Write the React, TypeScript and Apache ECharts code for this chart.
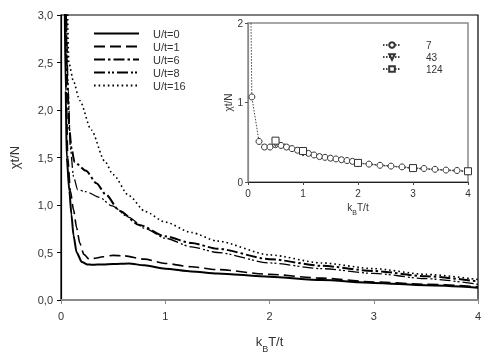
import React, { useEffect, useRef } from "react";
import * as echarts from "echarts";

// ---- main chart data (kBT/t, chi t/N) ----
const u0X = [0.035, 0.045, 0.055, 0.08, 0.1, 0.12, 0.15, 0.2, 0.25, 0.3, 0.4, 0.5, 0.65, 0.8, 1.0, 1.25, 1.5, 2.0, 2.5, 3.0, 3.5, 4.0];
const u0Y = [3.2, 2.2, 1.5, 1.15, 0.9, 0.68, 0.5, 0.4, 0.375, 0.37, 0.375, 0.38, 0.385, 0.365, 0.33, 0.3, 0.28, 0.245, 0.21, 0.18, 0.155, 0.13];

const u1X = [0.04, 0.05, 0.065, 0.09, 0.12, 0.15, 0.18, 0.22, 0.27, 0.33, 0.4, 0.5, 0.6, 0.8, 1.0, 1.25, 1.5, 2.0, 2.5, 3.0, 3.5, 4.0];
const u1Y = [3.2, 2.2, 1.5, 1.15, 0.95, 0.76, 0.6, 0.48, 0.43, 0.44, 0.455, 0.47, 0.465, 0.43, 0.385, 0.35, 0.32, 0.27, 0.23, 0.19, 0.165, 0.14];

const u6X = [0.045, 0.06, 0.08, 0.1, 0.13, 0.24, 0.34, 0.43, 0.56, 0.75, 1.0, 1.25, 1.5, 2.0, 2.5, 3.0, 3.5, 4.0];
const u6Y = [3.2, 2.3, 1.8, 1.6, 1.45, 1.36, 1.23, 1.11, 0.94, 0.79, 0.67, 0.6, 0.54, 0.43, 0.36, 0.305, 0.25, 0.195];

const u8X = [0.05, 0.07, 0.09, 0.12, 0.16, 0.24, 0.37, 0.49, 0.65, 0.81, 1.0, 1.25, 1.5, 2.0, 2.5, 3.0, 3.5, 4.0];
const u8Y = [3.2, 2.2, 1.6, 1.3, 1.16, 1.14, 1.08, 0.99, 0.87, 0.75, 0.65, 0.56, 0.5, 0.39, 0.33, 0.28, 0.225, 0.165];

const u16X = [0.06, 0.075, 0.12, 0.18, 0.29, 0.42, 0.5, 0.65, 0.81, 1.0, 1.25, 1.5, 2.0, 2.5, 3.0, 3.5, 4.0];
const u16Y = [3.2, 2.5, 2.3, 2.1, 1.79, 1.46, 1.32, 1.1, 0.93, 0.82, 0.71, 0.62, 0.475, 0.39, 0.33, 0.27, 0.215];

const mainNames = ["U/t=0", "U/t=1", "U/t=6", "U/t=8", "U/t=16"];

// ---- inset data ----
const in7X = [0.05, 0.07, 0.2, 0.3, 0.4, 0.5, 0.6, 0.7, 0.8, 0.9, 1.0, 1.1, 1.2, 1.3, 1.4, 1.5, 1.6, 1.7, 1.8, 1.9, 2.0, 2.2, 2.4, 2.6, 2.8, 3.0, 3.2, 3.4, 3.6, 3.8, 4.0];
const in7Y = [2.3, 1.07, 0.51, 0.44, 0.44, 0.47, 0.46, 0.44, 0.42, 0.4, 0.38, 0.36, 0.34, 0.32, 0.31, 0.3, 0.29, 0.28, 0.27, 0.26, 0.24, 0.225, 0.21, 0.2, 0.19, 0.18, 0.17, 0.16, 0.15, 0.145, 0.135];
const in43X = [0.5, 1.0, 2.0, 3.0, 4.0];
const in43Y = [0.49, 0.37, 0.235, 0.17, 0.13];
const in124X = [0.5, 1.0, 2.0, 3.0, 4.0];
const in124Y = [0.52, 0.39, 0.24, 0.175, 0.135];
const insetNames = ["7", "43", "124"];

const zip = (xs: number[], ys: number[]) => xs.map((x, i) => [x, ys[i]]);
const comma = (v: number) => v.toFixed(1).replace(".", ",");

export default function App() {
  const ref = useRef<HTMLDivElement>(null);
  useEffect(() => {
    if (!ref.current) return;
    const chart = echarts.init(ref.current, undefined, { renderer: "svg" });
    const lineBase = (name: string, xs: number[], ys: number[], width: number, type: any) => ({
      name,
      type: "line",
      xAxisIndex: 0,
      yAxisIndex: 0,
      data: zip(xs, ys),
      showSymbol: false,
      symbol: "none",
      smooth: 0.25,
      smoothMonotone: "x",
      lineStyle: { color: "#000", width, type },
      itemStyle: { color: "#000" },
      clip: true,
    });
    const insetSeries = (name: string, xs: number[], ys: number[], symbol: string, size: number, first?: boolean) => ({
      name,
      type: "line",
      xAxisIndex: 1,
      yAxisIndex: 1,
      data: zip(xs, ys).map((p, i) =>
        first && i === 0 ? { value: p, symbol: "none" } : { value: p }
      ),
      symbol,
      symbolSize: size,
      showSymbol: true,
      lineStyle: { color: "#444", width: 1, type: [1.5, 1.5] },
      itemStyle: { color: "#fff", borderColor: "#333", borderWidth: 1 },
      clip: true,
      z: 5,
    });
    const tri = "path://M0,0 L10,0 L5,9 Z";
    chart.setOption({
      animation: false,
      textStyle: { fontFamily: "Liberation Sans, Arial, sans-serif" },
      grid: [
        { left: 58, right: 13, top: 15, bottom: 49, show: true, borderColor: "#000", borderWidth: 1.2, backgroundColor: "transparent" },
        { left: 248, right: 23, top: 23, bottom: 176, show: true, borderColor: "#8a8a8a", borderWidth: 1.5, backgroundColor: "#fff" },
      ],
      xAxis: [
        {
          gridIndex: 0, type: "value", min: 0, max: 4, interval: 1,
          axisLine: { lineStyle: { color: "#8a8a8a", width: 2 } },
          axisTick: { show: true, length: 4, lineStyle: { color: "#8a8a8a" } },
          splitLine: { show: false },
          axisLabel: { fontSize: 11, color: "#333", margin: 10 },
          name: "{n|k}{s|B}{n|T/t}",
          nameLocation: "middle",
          nameGap: 35,
          nameTextStyle: {
            rich: {
              n: { fontSize: 13, color: "#333", lineHeight: 18, verticalAlign: "top" },
              s: { fontSize: 9, color: "#333", lineHeight: 18, verticalAlign: "bottom", padding: [8, 0, 0, 0] },
            },
          },
        },
        {
          gridIndex: 1, type: "value", min: 0, max: 4, interval: 1,
          axisLine: { lineStyle: { color: "#222", width: 1 } },
          axisTick: { show: true, length: 3, lineStyle: { color: "#444" } },
          splitLine: { show: false },
          axisLabel: { fontSize: 10, color: "#333", margin: 6 },
          name: "{n|k}{s|B}{n|T/t}",
          nameLocation: "middle",
          nameGap: 20,
          nameTextStyle: {
            rich: {
              n: { fontSize: 10, color: "#333", lineHeight: 14, verticalAlign: "top" },
              s: { fontSize: 7, color: "#333", lineHeight: 14, verticalAlign: "bottom", padding: [6, 0, 0, 0] },
            },
          },
        },
      ],
      yAxis: [
        {
          gridIndex: 0, type: "value", min: 0, max: 3, interval: 0.5,
          axisLine: { show: true, lineStyle: { color: "#000", width: 1.2 } },
          axisTick: { show: true, length: 4, lineStyle: { color: "#000" } },
          splitLine: { show: false },
          axisLabel: { fontSize: 11, color: "#333", margin: 8, formatter: comma },
          name: "χt/N",
          nameLocation: "middle",
          nameGap: 40,
          nameTextStyle: { fontSize: 13, color: "#333" },
        },
        {
          gridIndex: 1, type: "value", min: 0, max: 2, interval: 1,
          axisLine: { show: true, lineStyle: { color: "#8a8a8a", width: 1.2 } },
          axisTick: { show: true, length: 3, lineStyle: { color: "#555" } },
          splitLine: { show: false },
          axisLabel: { fontSize: 10, color: "#333", margin: 5 },
          name: "χt/N",
          nameLocation: "middle",
          nameGap: 12,
          nameTextStyle: { fontSize: 10, color: "#333" },
        },
      ],
      legend: [
        {
          data: mainNames,
          orient: "vertical",
          left: 93,
          top: 28,
          itemWidth: 45,
          itemHeight: 8,
          itemGap: 2,
          padding: 0,
          itemStyle: { opacity: 0 },
          textStyle: { fontSize: 11, color: "#333", padding: [0, 0, 0, 9] },
        },
        {
          data: insetNames,
          orient: "vertical",
          left: 382,
          top: 40,
          itemWidth: 18,
          itemHeight: 7,
          itemGap: 2,
          padding: 0,
          textStyle: { fontSize: 10, color: "#333", padding: [0, 0, 0, 20] },
        },
      ],
      series: [
        lineBase(mainNames[0], u0X, u0Y, 2, "solid"),
        lineBase(mainNames[1], u1X, u1Y, 1.6, [11, 5]),
        lineBase(mainNames[2], u6X, u6Y, 2, [11, 3, 2.5, 3]),
        lineBase(mainNames[3], u8X, u8Y, 1.3, [11, 3, 2, 2, 2, 3]),
        lineBase(mainNames[4], u16X, u16Y, 1.6, [1.6, 3]),
        insetSeries(insetNames[0], in7X, in7Y, "circle", 6, true),
        insetSeries(insetNames[1], in43X, in43Y, tri, 7),
        insetSeries(insetNames[2], in124X, in124Y, "rect", 7),
      ],
    });
    return () => chart.dispose();
  }, []);
  return (
    <div
      ref={ref}
      style={{ position: "fixed", left: 0, top: 0, width: 491, height: 358 }}
    />
  );
}
